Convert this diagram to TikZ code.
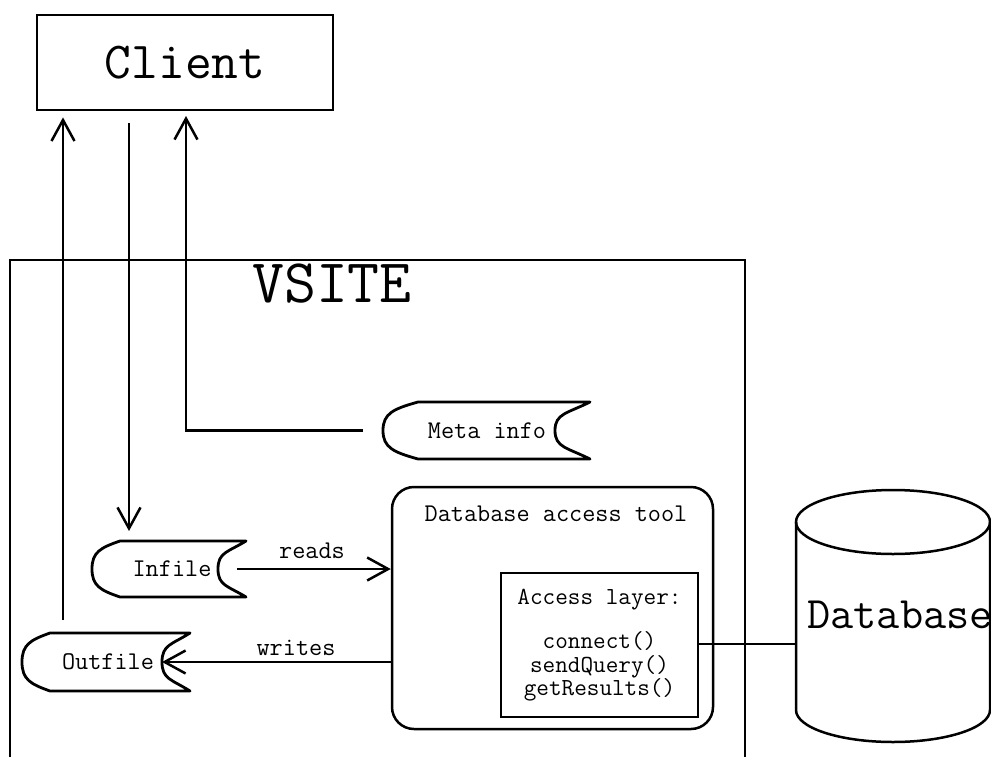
\documentclass[tikz,border=0pt]{standalone}
\usepackage{fontspec}
\usetikzlibrary{arrows.meta}
\tikzset{
  conn/.style={line width=2.5pt},
  thinconn/.style={line width=2pt},
  arr/.style={conn,-{Straight Barb[length=21pt,width=23pt]}},
  fileline/.style={line width=2.8pt, line join=round},
  smalltext/.style={inner sep=0pt, font=\ttfamily\fontsize{25.5}{27}\selectfont},
  boxline/.style={draw, line width=2.8pt, inner sep=0pt},
}
\newcommand{\FileBox}[8]{%
  \pgfmathsetmacro\fbmid{(#4+#5)/2}%
  \pgfmathsetmacro\fbh{(#5-#4)}%
  \pgfmathsetmacro\fbl{#2-#6}%
  \pgfmathsetmacro\fbn{#3-#6}%
  \draw[fileline] (#2,#4) -- (#3,#4)
     .. controls (\fbn+0.35*#6,#4+0.2*\fbh) and (\fbn,\fbmid-0.3*\fbh) .. (\fbn,\fbmid)
     .. controls (\fbn,\fbmid+0.3*\fbh) and (\fbn+0.35*#6,#5-0.2*\fbh) .. (#3,#5)
     -- (#2,#5)
     .. controls (\fbl+0.3*#6,#5-0.12*\fbh) and (\fbl,\fbmid+0.3*\fbh) .. (\fbl,\fbmid)
     .. controls (\fbl,\fbmid-0.3*\fbh) and (\fbl+0.3*#6,#4+0.12*\fbh) .. cycle;
  \node[smalltext] (#1) at (#7,\fbmid) {#8};
  \coordinate (#1-l) at (\fbl,\fbmid);
  \coordinate (#1-n) at (\fbn,\fbmid);
  \coordinate (#1-t) at (#2,#4);
}
\begin{document}
\begin{tikzpicture}[x=1pt,y=-1pt]
\clip (0,0) rectangle (991,756);
\useasboundingbox (0,0) rectangle (991,756);

% Client
\node[boxline, minimum width=296pt, minimum height=95pt,
      font=\ttfamily\fontsize{52}{56}\selectfont] (client) at (185,62.5) {Client};

% VSITE frame
\draw[conn] (10,260) rectangle (745,800);
\node[inner sep=0pt, font=\ttfamily\fontsize{62}{66}\selectfont] (vsite) at (332,284) {VSITE};

% files
\FileBox{meta}{418}{590}{402}{459}{35}{487}{Meta info}
\FileBox{infile}{120}{246}{541}{597}{28}{172}{Infile}
\FileBox{outfile}{50}{190}{633}{691}{28}{108}{Outfile}

% Database access tool
\node[draw, line width=2.5pt, rounded corners=22pt, minimum width=321pt,
      minimum height=242pt] (dat) at (552.5,608) {};
\node[smalltext] (dattitle) at (556,514) {Database access tool};
\node[boxline, minimum width=197pt, minimum height=144pt, align=center,
      font=\ttfamily\fontsize{24.5}{23.5}\selectfont] (al) at (599.5,645)
      {Access layer:\\[21pt]connect()\\sendQuery()\\getResults()};

% Database cylinder
\draw[conn] (796,522) -- (796,710)
   arc[start angle=180,end angle=360,x radius=97pt,y radius=32pt] -- (990,522);
\draw[conn] (893,522) ellipse [x radius=97pt, y radius=32pt];
\node[inner sep=0pt, font=\ttfamily\fontsize{45}{48}\selectfont] (db) at (900,615) {Database};
\coordinate (db-l) at (796,644);

% connectors
\coordinate (up1) at (63,620);
\draw[arr, shorten >=6pt] (up1) -- (up1 |- client.south);
\coordinate (down2) at (129,123);
\draw[arr, shorten >=10pt] (down2) -- (down2 |- infile-t);
\coordinate (up3) at (186,110);
\draw[arr, shorten <=20pt, shorten >=6pt] (meta-l) -| (up3);
\draw[arr, shorten <=19pt] (infile-n) -- (infile-n -| dat.west);
\node[smalltext] (reads) at (312,551) {reads};
\draw[arr] (dat.west |- outfile-n) -- (outfile-n);
\node[smalltext] (writes) at (296,648) {writes};
\draw[thinconn] (al.east |- db-l) -- (db-l);
\end{tikzpicture}
\end{document}
